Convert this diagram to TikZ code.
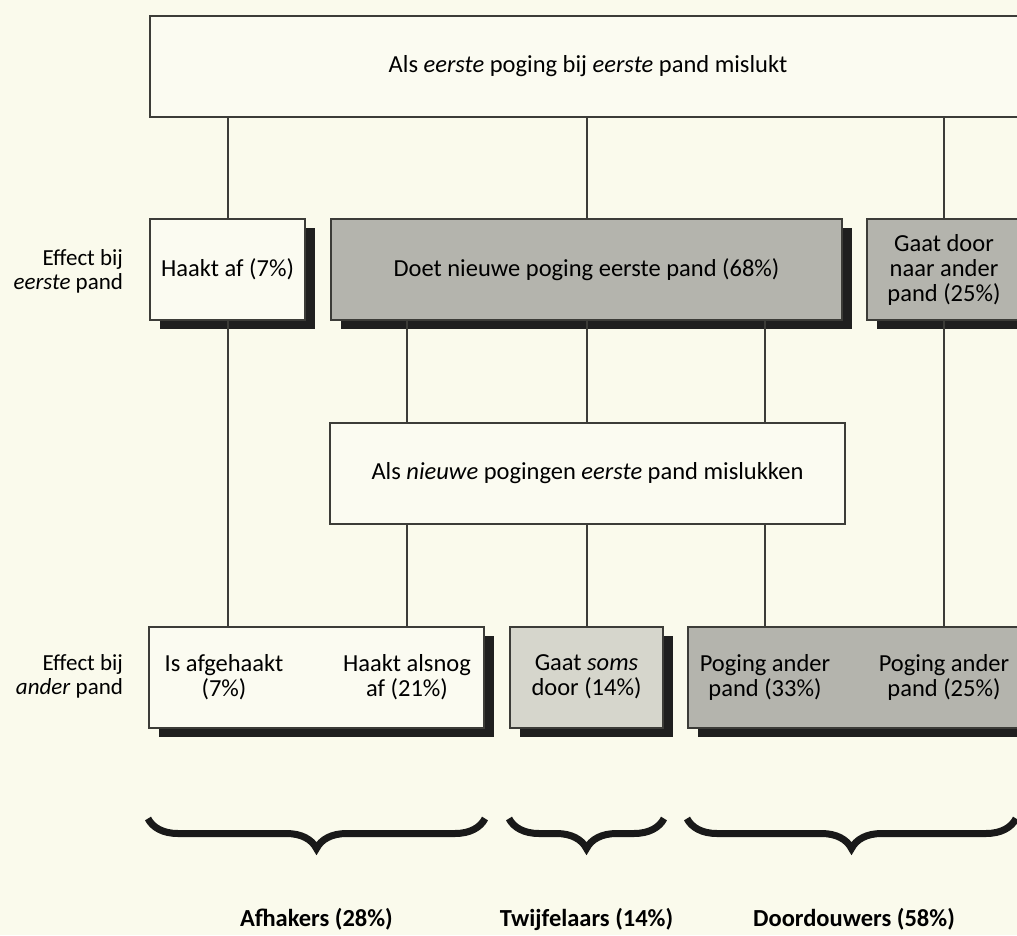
\documentclass[tikz,border=0pt]{standalone}
\usepackage{fontspec}
\setmainfont{Carlito}
\usepackage{tikz}
\usetikzlibrary{shadows}
\usetikzlibrary{decorations.pathreplacing}

\definecolor{papercream}{RGB}{250,250,236}
\definecolor{boxcream}{RGB}{251,251,241}
\definecolor{boxgray}{RGB}{180,180,173}
\definecolor{boxlight}{RGB}{214,214,204}
\definecolor{linegray}{RGB}{60,60,56}

\begin{document}
\begin{tikzpicture}[x=1pt, y=-1pt, line width=2pt,
        box_style/.style={rectangle,draw=linegray,line width=2pt,fill=boxcream,inner sep=0pt,minimum height=101pt,align=center,font=\fontsize{24.5}{25}\selectfont},
        shadow_box_style/.style={box_style,drop shadow={shadow xshift=10pt,shadow yshift=-9pt,fill=black!88,opacity=1}},
        gray_box_style/.style={shadow_box_style,fill=boxgray},
        light_box_style/.style={shadow_box_style,fill=boxlight},
        text_style/.style={inner sep=0pt,align=center,font=\fontsize{24.5}{25}\selectfont},
        side_style/.style={inner sep=0pt,align=right,anchor=east,font=\fontsize{23}{24}\selectfont},
        group_style/.style={inner sep=0pt,font=\fontsize{24.5}{25}\selectfont\bfseries},
        edge_style/.style={draw=linegray, line width=2pt},
        brace_style/.style={draw=black!90, line width=7pt, decorate, decoration={brace, mirror, amplitude=30pt}}]

        \clip (0,0) rectangle (1017,935);
        \fill [papercream] (0,0) rectangle (1017,935);

        \node [box_style, minimum width=876pt](top) at (588,66) {Als \textit{eerste} poging bij \textit{eerste} pand mislukt};

        \node [shadow_box_style, minimum width=155pt](haakt) at (227.5,269.5) {Haakt af (7\%)};

        \node [gray_box_style, minimum width=511pt](doet) at (586.5,269.5) {Doet nieuwe poging eerste pand (68\%)};

        \node [gray_box_style, minimum width=154pt](gaat) at (944,269.5) {Gaat door\\naar ander\\pand (25\%)};

        \node [box_style, minimum width=515pt](mid) at (587.5,473) {Als \textit{nieuwe} pogingen \textit{eerste} pand mislukken};

        \node [shadow_box_style, minimum width=335pt](afh) at (316.5,677) {};

        \node [light_box_style, minimum width=153pt](soms) at (586.5,677) {Gaat \textit{soms}\\door (14\%)};

        \node [gray_box_style, minimum width=342pt](pog) at (859,677) {};

        \node [text_style](afgehaakt) at (224,677) {Is afgehaakt\\(7\%)};

        \node [text_style](alsnog) at (407,677) {Haakt alsnog\\af (21\%)};

        \node [text_style](pog1) at (765,677) {Poging ander\\pand (33\%)};

        \node [text_style](pog2) at (944,677) {Poging ander\\pand (25\%)};

        \node [side_style](eerste) at (124,271) {Effect bij\\\textit{eerste} pand};

        \node [side_style](ander) at (124,676) {Effect bij\\\textit{ander} pand};

        \draw [edge_style] (top.south -| haakt) -- (haakt.north);

        \draw [edge_style] (top.south -| doet) -- (doet.north);

        \draw [edge_style] (top.south -| gaat) -- (gaat.north);

        \draw [edge_style] (haakt.south) -- (haakt |- afh.north);

        \draw [edge_style] (doet.south -| alsnog) -- (mid.north -| alsnog);

        \draw [edge_style] (doet.south) -- (mid.north -| doet);

        \draw [edge_style] (doet.south -| pog1) -- (mid.north -| pog1);

        \draw [edge_style] (mid.south -| alsnog) -- (afh.north -| alsnog);

        \draw [edge_style] (mid.south -| soms) -- (soms.north);

        \draw [edge_style] (mid.south -| pog1) -- (pog.north -| pog1);

        \draw [edge_style] (gaat.south) -- (gaat |- pog.north);

        \draw [brace_style] ([yshift=-90pt]afh.south west) -- ([yshift=-90pt]afh.south east);

        \draw [brace_style] ([yshift=-90pt]soms.south west) -- ([yshift=-90pt]soms.south east);

        \draw [brace_style] ([yshift=-90pt]pog.south west) -- ([xshift=-15pt,yshift=-90pt]pog.south east);

        \node [group_style](afhakers) at ([yshift=-191pt]afh.south) {Afhakers (28\%)};

        \node [group_style](twijfelaars) at ([yshift=-191pt]soms.south) {Twijfelaars (14\%)};

        \node [group_style](doordouwers) at ([xshift=-5pt,yshift=-191pt]pog.south) {Doordouwers (58\%)};

        \end{tikzpicture}
\end{document}
